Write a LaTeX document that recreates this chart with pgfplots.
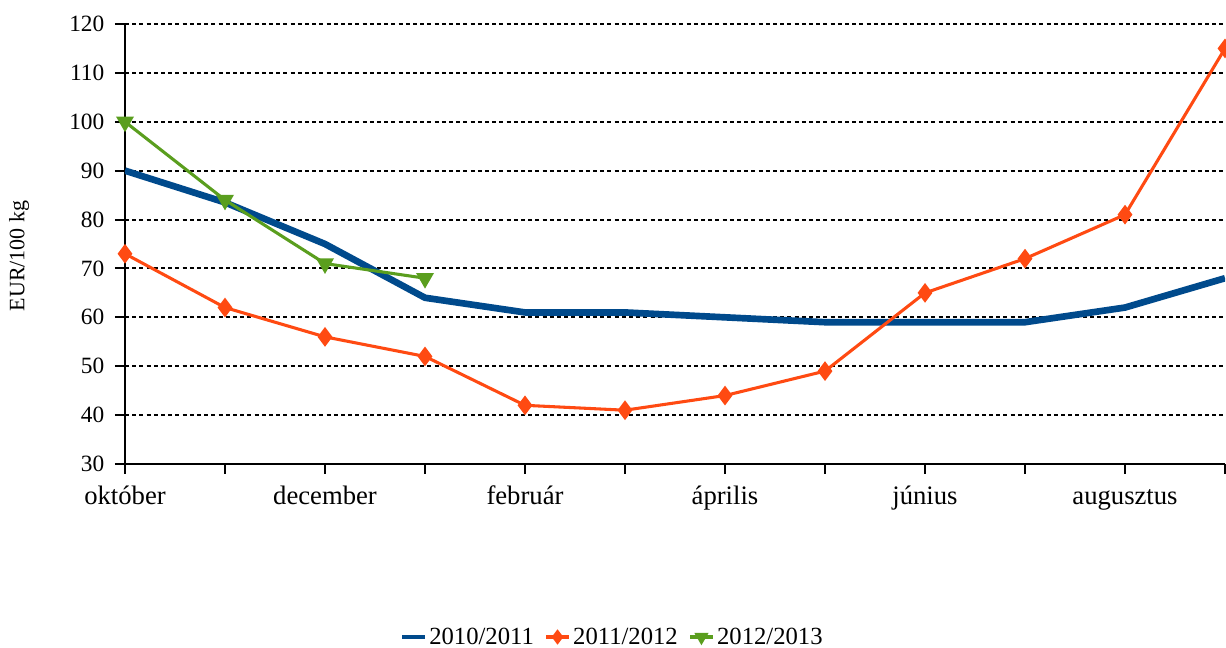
\documentclass[border=0pt]{standalone}
\usepackage{fontspec}
\setmainfont{Liberation Serif}
\usepackage{pgfplots}
\pgfplotsset{compat=1.18}
\usetikzlibrary{calc}
\definecolor{cblue}{HTML}{004A8C}
\definecolor{corange}{HTML}{FF4A12}
\definecolor{cgreen}{HTML}{5A9E1E}
\begin{document}
\begin{tikzpicture}
\begin{axis}[
  width=825pt, height=330pt, scale only axis,
  xmin=0, xmax=11, ymin=30, ymax=120,
  axis lines=left,
  axis line style={-, line width=1.5pt, black},
  xtick={0,1,2,3,4,5,6,7,8,9,10,11},
  xticklabels={október,,december,,február,,április,,június,,augusztus,},
  ytick={30,40,50,60,70,80,90,100,110,120},
  tick align=outside,
  major tick length=7.5pt,
  tick style={black, line width=1.5pt},
  ymajorgrids,
  major grid style={black, line width=1.5pt, dash pattern=on 3pt off 2.4pt},
  xticklabel style={font=\fontsize{20}{24}\selectfont, yshift=-11pt, text height=0.8em, text depth=0.25em},
  yticklabel style={font=\fontsize{17.5}{21}\selectfont, xshift=-4.5pt},
  /pgf/number format/assume math mode=true,
  ylabel={EUR/100 kg},
  ylabel style={at={([xshift=-79.5pt,yshift=-9pt]rel axis cs:0,0.5)}, anchor=center, font=\fontsize{16.5}{19}\selectfont},
  clip=true,
  legend columns=3,
  legend style={at={(0.4436,0)}, anchor=center, yshift=-129.75pt, draw=none, fill=none,
    font=\fontsize{18.5}{22}\selectfont,
    /tikz/every even column/.append style={column sep=6pt}},
  legend image post style={line width=2.4pt, mark size=3.8pt},
]
\addplot[cblue, line width=5pt, line join=round] coordinates {
 (0,90) (1,83.5) (2,75) (3,64) (4,61) (5,61) (6,60) (7,59) (8,59) (9,59) (10,62) (11,68)};
\addlegendentry{2010/2011}
\addplot[corange, line width=2.3pt, mark=diamond*, mark size=5.5pt, mark options={solid}] coordinates {
 (0,73) (1,62) (2,56) (3,52) (4,42) (5,41) (6,44) (7,49) (8,65) (9,72) (10,81) (11,115)};
\addlegendentry{2011/2012}
\addplot[cgreen, line width=2.3pt, mark=triangle*, mark size=5.5pt, mark options={rotate=180, solid}] coordinates {
 (0,100) (1,84) (2,71) (3,68)};
\addlegendentry{2012/2013}
\coordinate (bl) at (rel axis cs:0,0);
\coordinate (tr) at (rel axis cs:1,1);
\end{axis}
\pgfresetboundingbox
\path ($(bl)+(-93.75pt,-138pt)$) rectangle ($(tr)+(0.75pt,18pt)$);
\end{tikzpicture}
\end{document}
